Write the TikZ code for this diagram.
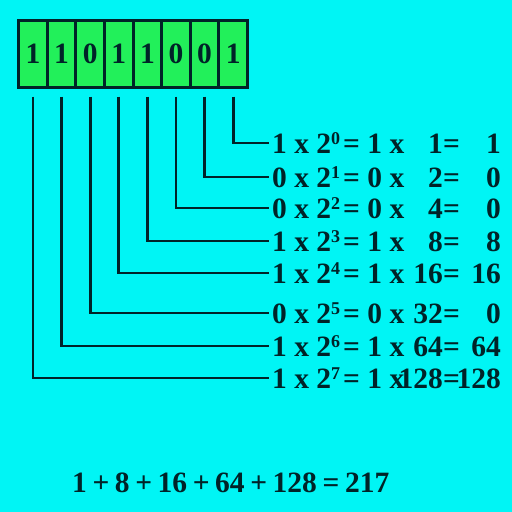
\documentclass[tikz,border=0pt]{standalone}
\usepackage{fontspec}
\setmainfont{Liberation Serif}
\usepackage{tikz}
\usetikzlibrary{calc}
\definecolor{bgcyan}{RGB}{0,245,245}
\definecolor{bitgreen}{RGB}{34,240,90}
\definecolor{inkdark}{RGB}{0,35,40}
\newcommand{\eqfont}{\fontsize{29.5}{30}\selectfont\bfseries}
\newcommand{\expfont}{\fontsize{18}{18}\selectfont\bfseries}

\begin{document}
\begin{tikzpicture}[x=1pt,y=-1pt,
  cell/.style={draw=inkdark,line width=3pt,fill=bitgreen,minimum width=28.6pt,minimum height=67pt,inner sep=0pt,text=inkdark,font=\eqfont},
  wire/.style={draw=inkdark,line width=2.8pt},
  eq/.style={inner sep=0pt,text=inkdark,font=\eqfont}]
  \fill[bgcyan](0,0) rectangle (512,512);
  % bits, wires and the weight of each bit
  \foreach \b/\y/\bit/\val/\res in {0/143/1/1/1,1/177/0/2/0,2/208/0/4/0,3/241/1/8/8,
      4/273/1/16/16,5/313/0/32/0,6/346/1/64/64,7/378/1/128/128}{
    \node[cell](c\b) at({33+(7-\b)*28.6},53.5){\bit};
    \coordinate(e\b) at(269,\y);
    \draw[wire]([yshift=-8pt]c\b.south) |- (e\b);
    \node[eq,anchor=base west](p\b) at(272,\y+10){\bit\ x 2\raisebox{9pt}{\expfont\b}};
    \node[eq,anchor=base west](q\b) at(343,\y+10){= \bit\ x};
    \node[eq,anchor=base east](v\b) at(443,\y+10){\val};
    \node[eq,anchor=base west](s\b) at(443,\y+10){=};
    \node[eq,anchor=base east](r\b) at(501,\y+10){\res};
  }
  \node[eq,anchor=base west,font={\eqfont\spaceskip=5.6pt}](sum) at(72,492){1 + 8 + 16 + 64 + 128 = 217};
\end{tikzpicture}
\end{document}
